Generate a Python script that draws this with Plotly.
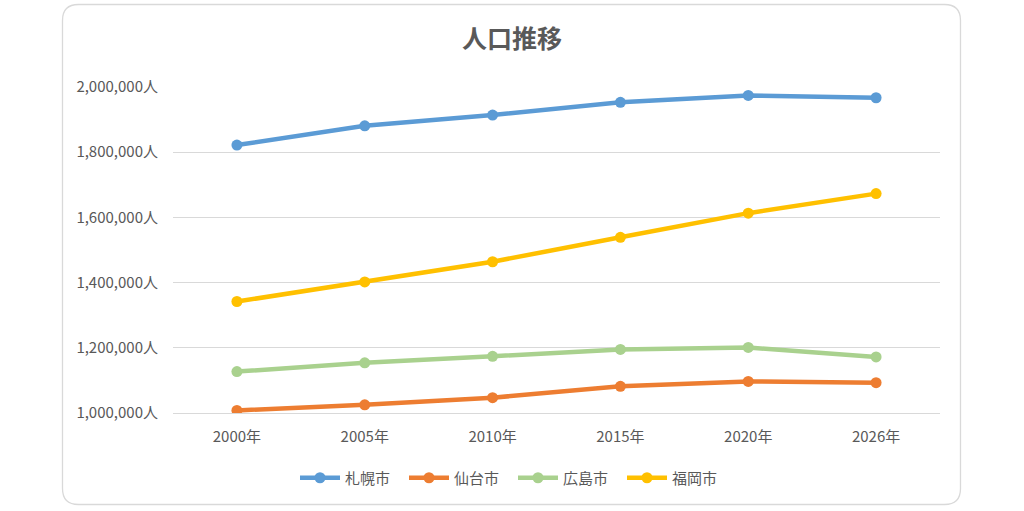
import plotly.graph_objects as go

years = ["2000年", "2005年", "2010年", "2015年", "2020年", "2026年"]
sapporo = [1822000, 1881000, 1914000, 1953000, 1974000, 1967000]
sendai = [1008000, 1025000, 1047000, 1082000, 1097000, 1093000]
hiroshima = [1127000, 1154000, 1174000, 1195000, 1201000, 1172000]
fukuoka = [1342000, 1402000, 1464000, 1539000, 1613000, 1673000]

series = [
    ("札幌市", sapporo, "#5B9BD5"),
    ("仙台市", sendai, "#ED7D31"),
    ("広島市", hiroshima, "#A9D18E"),
    ("福岡市", fukuoka, "#FFC000"),
]

FONT = "Noto Sans CJK JP"
GRAY = "#595959"

fig = go.Figure()
for name, vals, col in series:
    fig.add_trace(go.Scatter(
        x=years, y=vals, name=name, mode="lines+markers",
        line=dict(color=col, width=4.5),
        marker=dict(color=col, size=11),
    ))

W, H = 1024, 511
L, R, T, B = 173, 84, 87, 98
pw, ph = W - L - R, H - T - B

def px(x):
    return (x - L) / pw

def py(y):
    return (H - B - y) / ph

x0, x1, y0, y1 = px(62.5), px(960.5), py(504.5), py(4.5)
rx, ry = 16 / pw, 16 / ph
path = (f"M {x0+rx},{y1} L {x1-rx},{y1} Q {x1},{y1} {x1},{y1-ry} "
        f"L {x1},{y0+ry} Q {x1},{y0} {x1-rx},{y0} L {x0+rx},{y0} "
        f"Q {x0},{y0} {x0},{y0+ry} L {x0},{y1-ry} Q {x0},{y1} {x0+rx},{y1} Z")

fig.update_layout(
    width=W, height=H,
    margin=dict(l=L, r=R, t=T, b=B, autoexpand=False),
    paper_bgcolor="white", plot_bgcolor="white",
    font=dict(family=FONT, color=GRAY, size=14),
    title=dict(text="<b>人口推移</b>", x=0.5, xanchor="center", xref="container",
               y=1 - 39 / H, yanchor="middle",
               font=dict(size=25, color=GRAY, family=FONT)),
    showlegend=True,
    legend=dict(orientation="h", x=px(513), xanchor="center", xref="paper",
                y=py(478), yanchor="middle", font=dict(size=15, color=GRAY),
                itemwidth=40, entrywidth=54, entrywidthmode="pixels",
                tracegroupgap=0),
    shapes=[dict(type="path", path=path, xref="paper", yref="paper",
                 line=dict(color="#D9D9D9", width=1.3), fillcolor="rgba(0,0,0,0)",
                 layer="below")],
)
fig.update_xaxes(type="category", range=[-0.5, 5.5], showgrid=False,
                 showline=True, linecolor="#D9D9D9", linewidth=1,
                 ticks="", tickfont=dict(size=15, color=GRAY),
                 ticklabelstandoff=10, tickangle=0)
fig.update_yaxes(range=[1000000, 2000000], dtick=200000, tickformat=",",
                 ticksuffix="人", showgrid=True, gridcolor="#D9D9D9", gridwidth=1,
                 zeroline=False, showline=False, ticks="",
                 tickfont=dict(size=15, color=GRAY), ticklabelstandoff=14)

fig.write_html("out.html")
